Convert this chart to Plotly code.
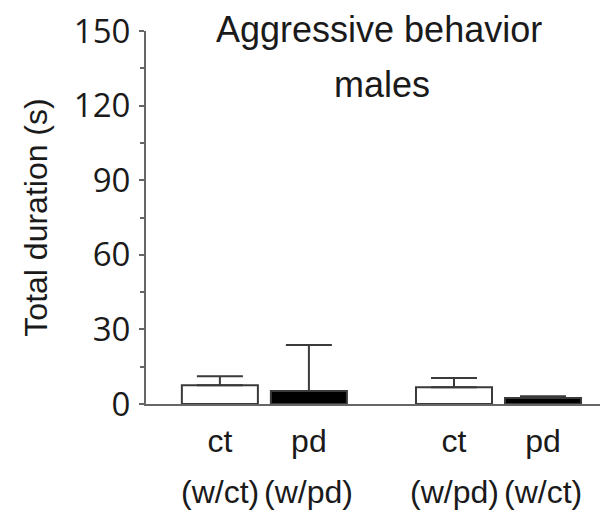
import plotly.graph_objects as go

# ---- data ----
categories_top = ["ct", "pd", "ct", "pd"]
categories_bottom = ["(w/ct)", "(w/pd)", "(w/pd)", "(w/ct)"]
means = [7.5, 5.2, 6.7, 2.4]
sem_up = [3.7, 18.5, 3.8, 0.7]
y_ticks = [0, 30, 60, 90, 120, 150]

# ---- layout helpers ----
group_offset = 2.63
xpos = [0, 1, group_offset, group_offset + 1]
fills = ["white", "black", "white", "black"]
axis_col = "#666666"
txt = "#1a1a1a"

fig = go.Figure()
fig.add_trace(go.Bar(
    x=xpos, y=means, width=0.854,
    marker=dict(color=fills, line=dict(color="#3a3a3a", width=2)),
    error_y=dict(type="data", symmetric=False, array=sem_up,
                 arrayminus=[0] * len(sem_up), color="#3a3a3a",
                 thickness=2, width=23),
    showlegend=False,
))

for xp, lab in zip(xpos, categories_bottom):
    fig.add_annotation(x=xp, xref="x", y=0, yref="paper", yanchor="top",
                       yshift=-68, text=lab, showarrow=False,
                       font=dict(family="Liberation Sans, Arial", size=32, color=txt))

fig.add_annotation(x=0.504, xref="paper", y=1, yref="paper", yanchor="bottom",
                   yshift=-21, text="Aggressive behavior", showarrow=False,
                   font=dict(family="Liberation Sans, Arial", size=36, color=txt))
fig.add_annotation(x=0.511, xref="paper", y=1, yref="paper", yanchor="bottom",
                   yshift=-76, text="males", showarrow=False,
                   font=dict(family="Liberation Sans, Arial", size=36, color=txt))

fig.update_layout(
    width=600, height=505,
    margin=dict(l=138, r=0, t=21, b=109),
    paper_bgcolor="white", plot_bgcolor="white",
    xaxis=dict(range=[-0.83, 4.36], tickvals=xpos, ticktext=categories_top,
               showline=True, linecolor=axis_col, linewidth=2, ticks="",
               showgrid=False, zeroline=False, ticklabelstandoff=8,
               tickfont=dict(family="Liberation Sans, Arial", size=32, color=txt)),
    yaxis=dict(range=[0, 150], tickvals=y_ticks, showline=True,
               linecolor=axis_col, linewidth=2, ticks="outside", ticklen=5,
               tickcolor=axis_col, tickwidth=2, showgrid=False, zeroline=False,
               ticklabelstandoff=2, ticklabeloverflow="allow",
               minor=dict(dtick=15, ticks="outside", ticklen=4,
                          tickcolor=axis_col, tickwidth=2),
               tickfont=dict(family="Open Sans", size=33, color=txt),
               title=dict(text="Total duration (s)", standoff=17,
                          font=dict(family="Liberation Sans, Arial", size=32, color=txt))),
)

fig.write_html("out.html")
